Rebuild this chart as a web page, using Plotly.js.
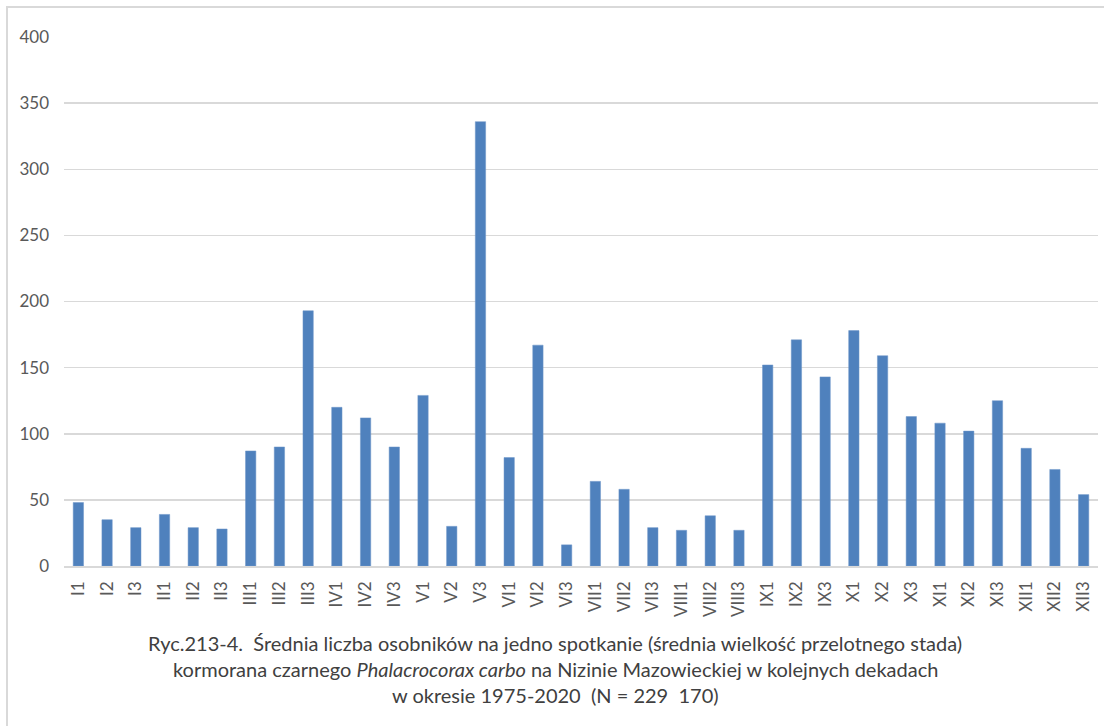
<!DOCTYPE html>
<html>
<head>
<meta charset="utf-8">
<script src="https://cdn.plot.ly/plotly-3.0.1.min.js"></script>
<style>
html,body{margin:0;padding:0;background:#fff;overflow:hidden;}
#frame{position:absolute;left:6px;top:6px;width:1200px;height:800px;border-top:2px solid #d9d9d9;border-left:2px solid #d9d9d9;box-sizing:border-box;}
#chart{position:absolute;left:0;top:0;width:1104px;height:726px;}
</style>
</head>
<body>
<div id="frame"></div>
<div id="chart"></div>
<script>
const categories = ["I1","I2","I3","II1","II2","II3","III1","III2","III3","IV1","IV2","IV3",
  "V1","V2","V3","VI1","VI2","VI3","VII1","VII2","VII3","VIII1","VIII2","VIII3",
  "IX1","IX2","IX3","X1","X2","X3","XI1","XI2","XI3","XII1","XII2","XII3"];
const values = [48,35,29,39,29,28,87,90,193,120,112,90,
  129,30,336,82,167,16,64,58,29,27,38,27,
  152,171,143,178,159,113,108,102,125,89,73,54];
const yTicks = [0,50,100,150,200,250,300,350,400];
const captionLines = [
  "Ryc.213-4.  Średnia liczba osobników na jedno spotkanie (średnia wielkość przelotnego stada)",
  "kormorana czarnego <i>Phalacrocorax carbo</i> na Nizinie Mazowieckiej w kolejnych dekadach",
  "w okresie 1975-2020  (N = 229  170)"
];

const trace = {
  type: 'bar',
  x: categories,
  y: values,
  marker: {color: '#4f81bd', line: {color: '#6f97c9', width: 0.5}},
  hoverinfo: 'x+y'
};

const captionY = [643, 669, 695];
const layout = {
  width: 1104, height: 726,
  margin: {l: 64, r: 6, t: 37, b: 160, pad: 0},
  paper_bgcolor: 'rgba(0,0,0,0)',
  plot_bgcolor: 'rgba(0,0,0,0)',
  showlegend: false,
  bargap: 0.64,
  font: {family: 'Lato, "Open Sans", sans-serif', color: '#595959', size: 17},
  xaxis: {
    type: 'category',
    tickangle: -90,
    showgrid: false,
    showline: true, linecolor: '#d9d9d9', linewidth: 1.5,
    ticks: '',
    ticklabelstandoff: 7,
    tickfont: {size: 17, color: '#595959'},
    fixedrange: true
  },
  yaxis: {
    range: [0, 400],
    tickvals: yTicks,
    showgrid: true, gridcolor: '#d9d9d9', gridwidth: 1.5,
    zeroline: false,
    showline: false,
    ticks: '',
    ticklabelstandoff: 14,
    tickfont: {size: 17, color: '#595959'},
    fixedrange: true
  },
  annotations: captionLines.map((t, i) => ({
    text: t,
    xref: 'paper', yref: 'paper',
    x: (555 - 64) / 1034,
    y: (726 - 160 - captionY[i]) / (726 - 37 - 160),
    xanchor: 'center', yanchor: 'middle',
    showarrow: false,
    font: {family: 'Lato, "Open Sans", sans-serif', size: 20, color: '#404040'}
  }))
};

Plotly.newPlot('chart', [trace], layout, {displayModeBar: false, staticPlot: true});
</script>
</body>
</html>
